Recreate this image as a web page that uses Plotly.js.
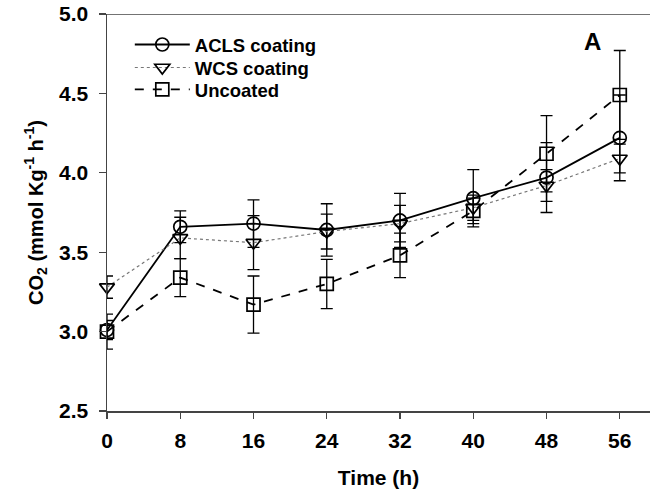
<!DOCTYPE html>
<html>
<head>
<meta charset="utf-8">
<script src="https://cdn.plot.ly/plotly-3.0.1.min.js"></script>
<style>html,body{margin:0;padding:0;background:#fff;}#chart{width:654px;height:502px;}</style>
</head>
<body>
<div id="chart"></div>
<script>
const timeH = [0, 8, 16, 24, 32, 40, 48, 56];
const aclsCO2 = [3.01, 3.66, 3.68, 3.64, 3.70, 3.84, 3.97, 4.22];
const aclsErr = [0.06, 0.10, 0.15, 0.165, 0.17, 0.18, 0.22, 0.27];
const wcsCO2 = [3.28, 3.59, 3.56, 3.63, 3.68, 3.78, 3.92, 4.09];
const wcsErr = [0.07, 0.13, 0.17, 0.11, 0.115, 0.08, 0.10, 0.09];
const uncCO2 = [3.00, 3.34, 3.17, 3.30, 3.48, 3.76, 4.12, 4.49];
const uncErr = [0.11, 0.12, 0.18, 0.155, 0.14, 0.08, 0.24, 0.28];
const xTicks = [0, 8, 16, 24, 32, 40, 48, 56];
const yTicks = [2.5, 3.0, 3.5, 4.0, 4.5, 5.0];
const yTickText = ['2.5', '3.0', '3.5', '4.0', '4.5', '5.0'];

const FONT = 'Liberation Sans, Arial, sans-serif';

function mk(name, y, err, symbol, dash, lineColor, lineWidth, legendId) {
  return {
    x: timeH, y: y, name: name, type: 'scatter', mode: 'lines+markers',
    legend: legendId,
    cliponaxis: false,
    line: {color: lineColor, width: lineWidth, dash: dash},
    marker: {symbol: symbol, size: 13, color: '#000', line: {color: '#000', width: 1.7}},
    error_y: {type: 'data', array: err, visible: true, color: '#000', thickness: 1.3, width: 6}
  };
}

const data = [
  mk('ACLS coating', aclsCO2, aclsErr, 'circle-open', 'solid', '#000', 1.8, 'legend'),
  mk('WCS coating', wcsCO2, wcsErr, 'triangle-down-open', 'dot', '#777', 1.2, 'legend2'),
  mk('Uncoated', uncCO2, uncErr, 'square-open', 'dash', '#000', 1.8, 'legend3')
];

function leg(yPaper) {
  return {
    x: 0.042, y: yPaper, xanchor: 'left', yanchor: 'middle',
    bgcolor: 'rgba(0,0,0,0)', borderwidth: 0,
    font: {family: FONT, size: 18.5, color: '#000', weight: 'bold'},
    tracegroupgap: 0, itemwidth: 55
  };
}

const layout = {
  width: 654, height: 502,
  margin: {l: 107, r: 4, t: 14, b: 91},
  paper_bgcolor: '#fff', plot_bgcolor: '#fff',
  showlegend: true,
  font: {family: FONT, color: '#000'},
  xaxis: {
    range: [0, 59.3], tickvals: xTicks, ticktext: xTicks.map(String),
    showgrid: false, zeroline: false, showline: true, linecolor: '#444', linewidth: 1.5,
    ticks: 'outside', ticklen: 6, tickwidth: 1.3, tickcolor: '#444', ticklabelstandoff: 4,
    tickfont: {family: FONT, size: 21, color: '#000', weight: 'bold'},
    title: {text: '<b>Time (h)</b>', font: {family: FONT, size: 21, color: '#000'}, standoff: 19}
  },
  yaxis: {
    range: [2.5, 5.0], tickvals: yTicks, ticktext: yTickText,
    showgrid: false, zeroline: false, showline: true, linecolor: '#444', linewidth: 1.5,
    ticks: 'outside', ticklen: 7, tickwidth: 1.3, tickcolor: '#444', ticklabelstandoff: 6,
    tickfont: {family: FONT, size: 21, color: '#000', weight: 'bold'},
    title: {text: '<b>CO<sub>2</sub> (mmol Kg<sup>-1</sup> h<sup>-1</sup>)</b>', font: {family: FONT, size: 20, color: '#000'}, standoff: 10}
  },
  legend: leg(0.922),
  legend2: leg(0.864),
  legend3: leg(0.809),
  shapes: [
    {type: 'line', xref: 'paper', yref: 'y', x0: 0, x1: 1, y0: 5.0, y1: 5.0, line: {color: '#444', width: 1.5}}
  ],
  annotations: [
    {xref: 'paper', yref: 'paper', x: 0.895, y: 0.93, xanchor: 'center', yanchor: 'middle',
     text: '<b>A</b>', showarrow: false, font: {family: FONT, size: 24, color: '#000'}}
  ]
};

Plotly.newPlot('chart', data, layout, {displayModeBar: false, staticPlot: true});
</script>
</body>
</html>
